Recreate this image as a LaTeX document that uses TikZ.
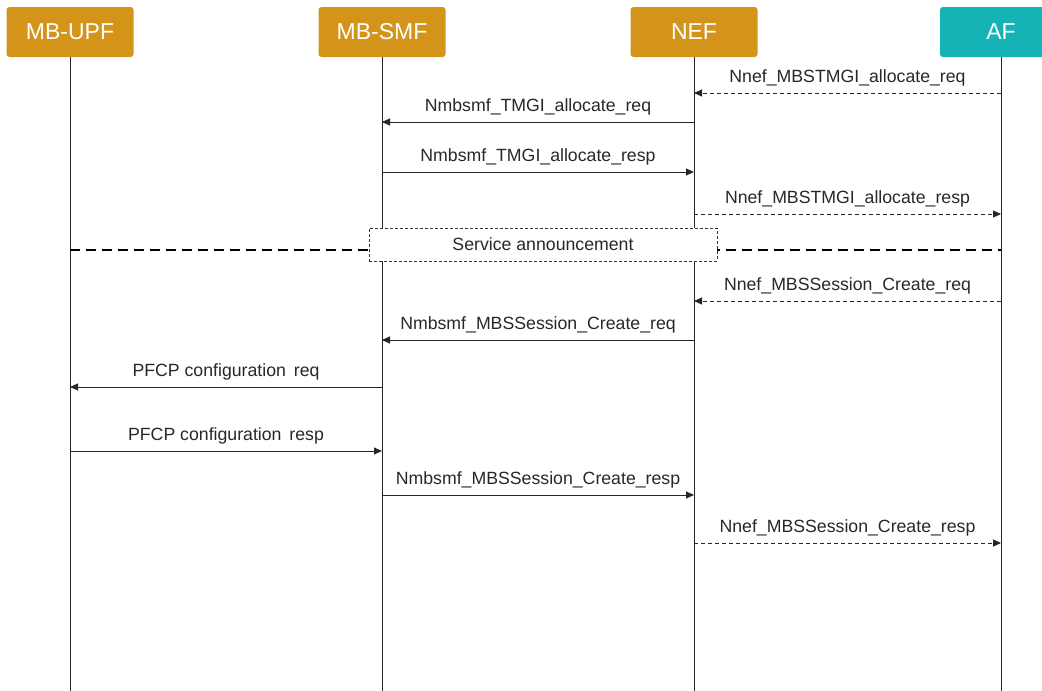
\documentclass[tikz,border=0pt]{standalone}
\usepackage{fontspec}
\setmainfont{Liberation Sans}
\usetikzlibrary{arrows.meta}
\definecolor{gold}{RGB}{212,148,26}
\definecolor{tealaf}{RGB}{22,179,182}
\definecolor{ink}{RGB}{40,40,40}
\begin{document}
\begin{tikzpicture}[x=1pt,y=-1pt,
  actor/.style={rounded corners=3pt, minimum width=127pt, minimum height=50pt,
    inner sep=0pt, text=white, font=\fontsize{23}{27}\selectfont},
  life/.style={line width=1pt, draw=black!85},
  msg/.style={line width=0.9pt, draw=black!85, -{Triangle[length=8pt,width=7pt]}},
  async/.style={msg, dash pattern=on 4pt off 3pt},
  lbl/.style={font=\fontsize{17.7}{21}\selectfont, text=ink, anchor=base, yshift=11pt},
  sep/.style={line width=2pt, dash pattern=on 10pt off 6pt},
  phase/.style={draw=black!80, line width=0.8pt, dash pattern=on 3pt off 2pt, fill=white,
    minimum width=348pt, minimum height=33pt, inner sep=0pt,
    font=\fontsize{17.7}{21}\selectfont, text=ink}
]
\useasboundingbox (0,0) rectangle (1042,691);

% participants
\begin{scope}
  \clip (0,0) rectangle (1042,691);
  \node[actor, fill=gold] (upf) at (70,32) {MB-UPF};
  \node[actor, fill=gold] (smf) at (382,32) {MB-SMF};
  \node[actor, fill=gold] (nef) at (694,32) {NEF};
  \node[actor, fill=tealaf, minimum width=122pt] (af) at (1001,32) {AF};
\end{scope}

% lifelines
\draw[life] (upf.south) -- (upf.south |- 0,691);
\draw[life] (smf.south) -- (smf.south |- 0,691);
\draw[life] (nef.south) -- (nef.south |- 0,691);
\draw[life] (af.south) -- (af.south |- 0,691);

% TMGI allocation
\draw[async] (af.south |- 0,93) -- node[lbl] {Nnef\_MBSTMGI\_allocate\_req} (nef.south |- 0,93);
\draw[msg] (nef.south |- 0,122) -- node[lbl] {Nmbsmf\_TMGI\_allocate\_req} (smf.south |- 0,122);
\draw[msg] (smf.south |- 0,172) -- node[lbl] {Nmbsmf\_TMGI\_allocate\_resp} (nef.south |- 0,172);
\draw[async] (nef.south |- 0,214) -- node[lbl] {Nnef\_MBSTMGI\_allocate\_resp} (af.south |- 0,214);

% service announcement phase
\draw[sep] (upf.south |- 0,250) -- (af.south |- 0,250);
\node[phase] (ann) at (543,244.5) {Service announcement};

% MBS session creation
\draw[async] (af.south |- 0,301) -- node[lbl] {Nnef\_MBSSession\_Create\_req} (nef.south |- 0,301);
\draw[msg] (nef.south |- 0,340) -- node[lbl] {Nmbsmf\_MBSSession\_Create\_req} (smf.south |- 0,340);
\draw[msg] (smf.south |- 0,387) -- node[lbl] {PFCP configuration\, req} (upf.south |- 0,387);
\draw[msg] (upf.south |- 0,451) -- node[lbl] {PFCP configuration\, resp} (smf.south |- 0,451);
\draw[msg] (smf.south |- 0,495) -- node[lbl] {Nmbsmf\_MBSSession\_Create\_resp} (nef.south |- 0,495);
\draw[async] (nef.south |- 0,543) -- node[lbl] {Nnef\_MBSSession\_Create\_resp} (af.south |- 0,543);
\end{tikzpicture}
\end{document}
